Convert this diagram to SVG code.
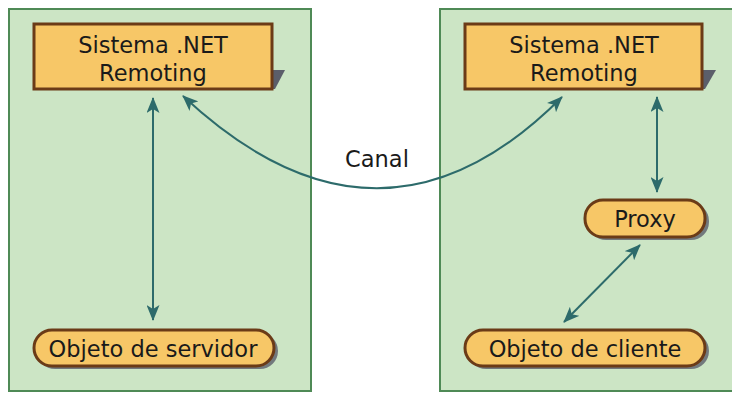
<svg xmlns="http://www.w3.org/2000/svg" width="732" height="394" viewBox="0 0 732 394">
<defs>
<marker id="ah" viewBox="0 0 16 13" refX="15" refY="6.5" markerWidth="16" markerHeight="13" markerUnits="userSpaceOnUse" orient="auto-start-reverse">
<path d="M0,0 L16,6.5 L0,13 L4,6.5 Z" fill="#2d6b6b"/>
</marker>
</defs>
<style>
.panel{fill:#cce5c5;stroke:#4f8a56;stroke-width:2}
.box{fill:#f7c767;stroke:#6b3b17;stroke-width:3}
.shadow{fill:#5b5e6a}
.pill{fill:#f7c767;stroke:#6b3b17;stroke-width:3}
.t{font-family:"DejaVu Sans",Verdana,sans-serif;font-size:22.5px;fill:#1a1a1a;text-anchor:middle}
.c{fill:none;stroke:#2d6b6b;stroke-width:2;marker-start:url(#ah);marker-end:url(#ah)}
</style>
<rect width="732" height="394" fill="#ffffff"/>
<g id="panel-servidor"><rect class="panel" x="9" y="9" width="302" height="382"/></g>
<g id="panel-cliente"><rect class="panel" x="440" y="9" width="300" height="382"/></g>
<g id="remoting-servidor">
<polygon class="shadow" points="272,70 285,70 275,89 272,89"/>
<rect class="box" x="34" y="24" width="238" height="65"/>
<text class="t" x="153" y="53">Sistema .NET</text>
<text class="t" x="153" y="81">Remoting</text>
</g>
<g id="remoting-cliente">
<polygon class="shadow" points="702,70 716,70 705,89 702,89"/>
<rect class="box" x="465" y="24" width="237" height="65"/>
<text class="t" x="584" y="53">Sistema .NET</text>
<text class="t" x="584" y="81">Remoting</text>
</g>
<g id="objeto-servidor">
<rect class="shadow" x="37" y="333" width="241" height="36" rx="18" opacity="0.8"/>
<rect class="pill" x="34" y="330" width="240" height="36" rx="18"/>
<text class="t" x="153" y="357">Objeto de servidor</text>
</g>
<g id="proxy">
<rect class="shadow" x="588" y="203" width="121" height="37" rx="18" opacity="0.8"/>
<rect class="pill" x="585" y="200" width="120" height="37" rx="18"/>
<text class="t" x="645" y="227">Proxy</text>
</g>
<g id="objeto-cliente">
<rect class="shadow" x="468" y="333" width="241" height="36" rx="18" opacity="0.8"/>
<rect class="pill" x="465" y="330" width="240" height="36" rx="18"/>
<text class="t" x="585" y="357">Objeto de cliente</text>
</g>
<g id="connectors">
<line class="c" x1="153" y1="98" x2="153" y2="320"/>
<line class="c" x1="657" y1="97" x2="657" y2="192"/>
<line class="c" x1="640" y1="245" x2="564" y2="322"/>
<path class="c" d="M183,96 Q380,280 562,97"/>
<text class="t" x="377" y="167">Canal</text>
</g>
</svg>
